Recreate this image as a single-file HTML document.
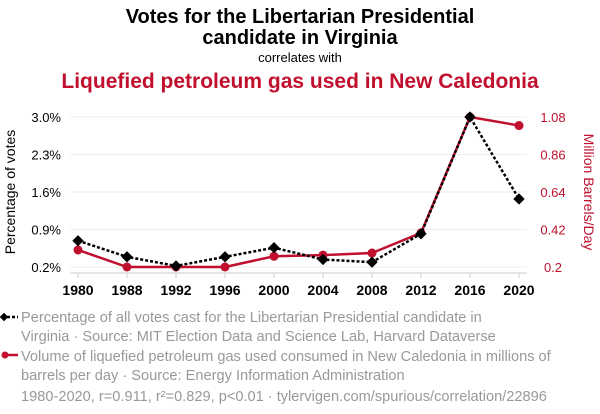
<!DOCTYPE html>
<html><head><meta charset="utf-8"><style>
body{margin:0;background:#fff;width:600px;height:414px;overflow:hidden;font-family:"Liberation Sans",Arial,sans-serif}
svg{position:absolute;left:0;top:0}
</style></head><body>
<svg width="600" height="414" id="c">
<text x="300" y="23" text-anchor="middle" font-size="20" font-weight="bold" fill="#000">Votes for the Libertarian Presidential</text>
<text x="300" y="44" text-anchor="middle" font-size="20" font-weight="bold" fill="#000">candidate in Virginia</text>
<text x="300" y="62" text-anchor="middle" font-size="13" fill="#000">correlates with</text>
<text x="300" y="88" text-anchor="middle" font-size="21" font-weight="bold" fill="#c0102e">Liquefied petroleum gas used in New Caledonia</text>
<text transform="translate(15,192) rotate(-90)" text-anchor="middle" font-size="14" fill="#000">Percentage of votes</text>
<text transform="translate(584,192) rotate(90)" text-anchor="middle" font-size="14" fill="#c0102e">Million Barrels/Day</text>
<g id="grid"></g><g id="axes"></g><g id="series"></g>
<g font-size="14.6" fill="#999">
<line x1="2" y1="317" x2="18" y2="317" stroke="#000" stroke-width="2.5" stroke-dasharray="3,2"/>
<rect x="1" y="314" width="6" height="6" transform="rotate(45 4 317)" fill="#000"/>
<text x="21" y="322">Percentage of all votes cast for the Libertarian Presidential candidate in</text>
<text x="21" y="341">Virginia · Source: MIT Election Data and Science Lab, Harvard Dataverse</text>
<line x1="3" y1="355" x2="18" y2="355" stroke="#c0102e" stroke-width="2.5"/>
<circle cx="5" cy="355" r="3.5" fill="#c0102e"/>
<text x="21" y="361">Volume of liquefied petroleum gas used consumed in New Caledonia in millions of</text>
<text x="21" y="380">barrels per day · Source: Energy Information Administration</text>
<text x="21" y="401">1980-2020, r=0.911, r²=0.829, p&lt;0.01 · tylervigen.com/spurious/correlation/22896</text>
</g>
</svg>
<script>
const years=["1980","1988","1992","1996","2000","2004","2008","2012","2016","2020"];
const votes=[0.69,0.39,0.22,0.39,0.56,0.34,0.29,0.82,3.0,1.47];
const lpg=[0.30,0.20,0.20,0.20,0.263,0.27,0.282,0.40,1.08,1.03];
const leftTicks=["0.2%","0.9%","1.6%","2.3%","3.0%"];
const leftTickVals=[0.2,0.9,1.6,2.3,3.0];
const rightTicks=["0.2","0.42","0.64","0.86","1.08"];
const rightTickVals=[0.2,0.42,0.64,0.86,1.08];
const NS="http://www.w3.org/2000/svg";
const X0=78,XS=49,YT=117,YB=267,GL=70,GR=527;
function x(i){return X0+i*XS;}
function yl(v){return YB-(v-0.2)/2.8*(YB-YT);}
function yr(v){return YB-(v-0.2)/0.88*(YB-YT);}
function mk(t,a,p){const e=document.createElementNS(NS,t);for(const k in a)e.setAttribute(k,a[k]);p.appendChild(e);return e;}
const grid=document.getElementById('grid'),axes=document.getElementById('axes'),ser=document.getElementById('series');
leftTickVals.forEach((v,i)=>{
 const g=mk('line',{x1:GL,x2:GR,y1:yl(v),y2:yl(v),stroke:'#eee','stroke-width':1},grid);
 
 
 const t=mk('text',{x:61,y:yl(v)+5,'text-anchor':'end','font-size':13,fill:'#000'},axes);
 t.textContent=leftTicks[i];
 
 
});
rightTickVals.forEach((v,i)=>{
 const t=mk('text',{x:553,y:yr(v)+5,'text-anchor':'middle','font-size':13,fill:'#c0102e'},axes);
 t.textContent=rightTicks[i];
 
 
});
const base=mk('line',{x1:GL,x2:GR,y1:273,y2:273,stroke:'#ccc','stroke-width':1},axes);


years.forEach((y,i)=>{
 mk('line',{x1:x(i),x2:x(i),y1:273,y2:278,stroke:'#ccc'},axes);
 const t=mk('text',{x:x(i),y:295,'text-anchor':'middle','font-size':14,'font-weight':'bold',fill:'#000'},axes);
 t.textContent=y;
 
 
});
const rl=mk('polyline',{points:lpg.map((v,i)=>x(i)+','+yr(v)).join(' '),fill:'none',stroke:'#c0102e','stroke-width':2.5},ser);


lpg.forEach((v,i)=>{const c=mk('circle',{cx:x(i),cy:yr(v),r:4.5,fill:'#c0102e'},ser);
 
 });
const bl=mk('polyline',{points:votes.map((v,i)=>x(i)+','+yl(v)).join(' '),fill:'none',stroke:'#000','stroke-width':2.5,'stroke-dasharray':'3,2'},ser);


votes.forEach((v,i)=>{const r=mk('rect',{x:x(i)-4,y:yl(v)-4,width:8,height:8,fill:'#000',transform:`rotate(45 ${x(i)} ${yl(v)})`},ser);
 
 });
</script>
</body></html>
